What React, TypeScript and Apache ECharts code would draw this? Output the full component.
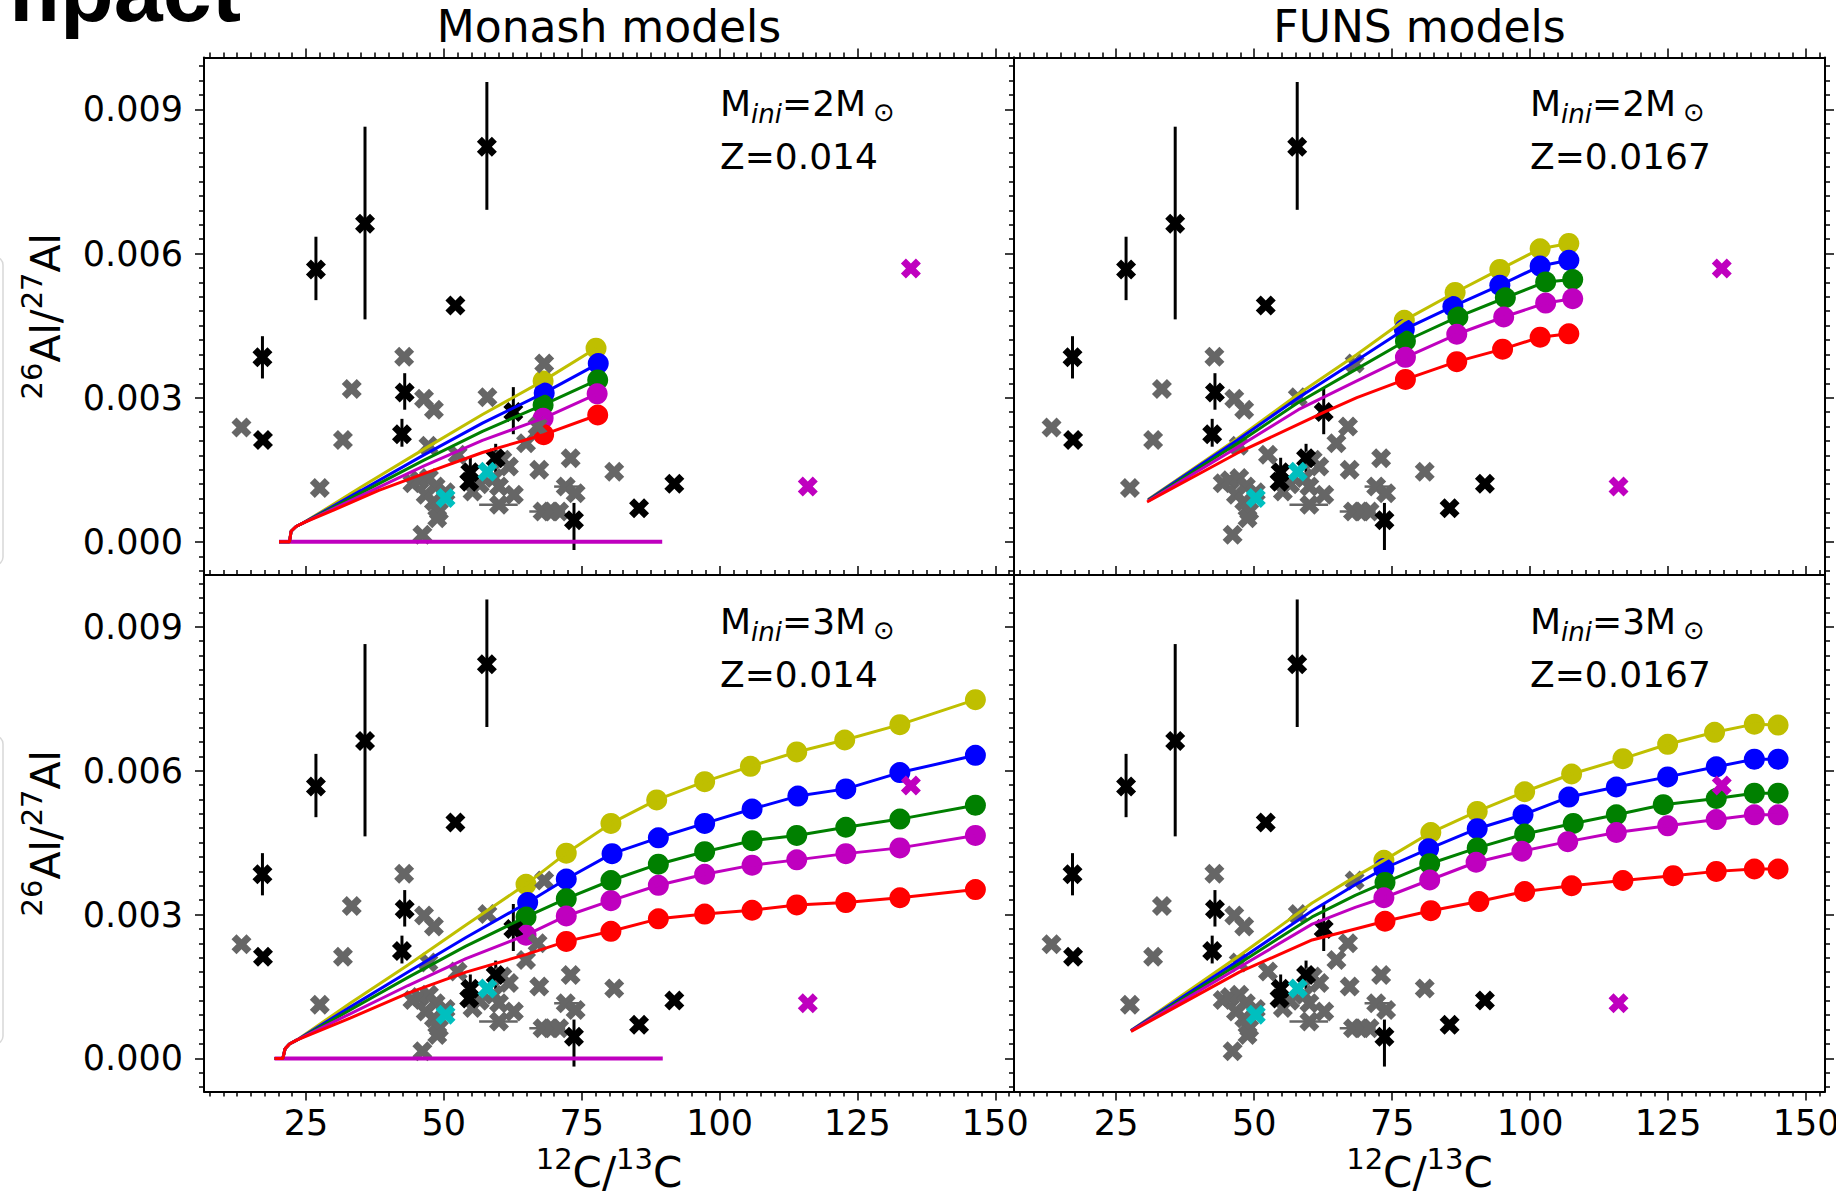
import React, { useEffect, useRef } from "react";
import * as echarts from "echarts";

type Pt = [number, number];

const W = 1836;
const H = 1198;

// ---------- axis ranges and ticks ----------
const X_MIN = 6.5;
const X_MAX = 153.4;
const Y_MIN = -0.00069;
const Y_MAX = 0.01008;
const X_TICKS = [25, 50, 75, 100, 125, 150];
const Y_TICKS = [0, 0.003, 0.006, 0.009];
const X_MINOR: number[] = [];
for (let k = 3; k <= 61; k++) if (k % 10 !== 0) X_MINOR.push(k * 2.5);
const Y_MINOR: number[] = [];
for (let k = -2; k <= 33; k++) if (k % 10 !== 0) Y_MINOR.push(Number((k * 0.0003).toFixed(5)));

// ---------- colours ----------
const C_Y = "#bfbf00";
const C_B = "#0000ff";
const C_G = "#008000";
const C_M = "#bf00bf";
const C_R = "#ff0000";
const C_GRAY = "#666666";
const C_CYAN = "#00bfbf";

// filled "X" marker
const X_MARK = "path://M15,0L20,5L15,10L20,15L15,20L10,15L5,20L0,15L5,10L0,5L5,0L10,5Z";
const X_SIZE = 20;
const DOT_SIZE = 21;

// ---------- grain measurements (12C/13C, 26Al/27Al) ----------
const BLACK_PTS: Pt[] = [
  [17.1, 0.00384], [17.2, 0.00212], [26.8, 0.00567], [35.7, 0.00662], [57.8, 0.00822],
  [52.1, 0.00492], [42.9, 0.00311], [42.4, 0.00224], [62.6, 0.0027], [54.8, 0.00145],
  [54.6, 0.00125], [59.4, 0.00174], [73.6, 0.00045], [85.4, 0.0007], [91.8, 0.00121],
];
// [minus, plus] uncertainty on 26Al/27Al
const BLACK_YERR: Pt[] = [
  [0.00044, 0.00044], [0, 0], [0.00064, 0.00068], [0.00199, 0.00202], [0.00131, 0.00135],
  [0, 0], [0.00036, 0.0004], [0.00026, 0.00032], [0.00046, 0.00052], [0.00028, 0.0003],
  [0, 0], [0.0003, 0.0003], [0.00062, 0.00036], [0, 0], [0, 0],
];
const GRAY_PTS: Pt[] = [
  [13.3, 0.00238], [27.5, 0.00112], [33.3, 0.00318], [31.7, 0.00212], [42.8, 0.00385],
  [46.4, 0.00298], [48.2, 0.00275], [47.2, 0.002], [57.9, 0.00301], [68.2, 0.00371],
  [52.5, 0.00181], [64.9, 0.00205], [67.0, 0.0024], [67.3, 0.0015], [73.0, 0.00174],
  [80.9, 0.00146], [44.3, 0.00122], [45.6, 0.00128], [47.3, 0.00133], [48.5, 0.00115],
  [46.7, 0.00098], [48.2, 0.00084], [49.1, 0.00063], [48.8, 0.00049], [46.1, 0.00015],
  [50.3, 0.00103], [55.2, 0.00105], [60.6, 0.00171], [61.8, 0.00157], [59.1, 0.00133],
  [60.0, 0.00115], [62.7, 0.00098], [56.5, 0.0012], [60.0, 0.00077], [72.1, 0.00115],
  [73.9, 0.00101], [67.9, 0.00063], [69.4, 0.00063], [70.9, 0.00063],
];
// horizontal 12C/13C uncertainty: [low, high, 26Al/27Al]
const GRAY_XERR: [number, number, number][] = [
  [56.4, 63.4, 0.00077],
  [70.0, 74.5, 0.00115],
  [65.5, 72.0, 0.00063],
];
const CYAN_PTS: Pt[] = [[50.3, 0.00091], [57.9, 0.00146]];
const MAGENTA_PTS: Pt[] = [[116.0, 0.00115], [134.7, 0.00569]];

// ---------- Monash 2 Msun, Z=0.014 ----------
const MON2_START: Pt[] = [[20.1, 0], [22.0, 0], [22.3, 0.00022], [23.2, 0.00032], [24.6, 0.0004]];
const MON2_Y_TRACK: Pt[] = [[35, 0.00114], [46.4, 0.00193], [57, 0.00265]];
const MON2_B_TRACK: Pt[] = [[35, 0.00107], [46.4, 0.00181], [57, 0.00247]];
const MON2_G_TRACK: Pt[] = [[35, 0.00102], [46.4, 0.0017], [57, 0.0023]];
const MON2_M_TRACK: Pt[] = [[35, 0.00096], [46.4, 0.00158], [57, 0.00211]];
const MON2_R_TRACK: Pt[] = [[30, 0.00066], [38.2, 0.00107], [46.4, 0.00142], [57, 0.00186]];
const MON2_Y_DOTS: Pt[] = [[68.0, 0.00335], [77.6, 0.00403]];
const MON2_B_DOTS: Pt[] = [[68.2, 0.0031], [78.0, 0.00371]];
const MON2_G_DOTS: Pt[] = [[68.0, 0.00285], [77.9, 0.00337]];
const MON2_M_DOTS: Pt[] = [[68.0, 0.00257], [77.8, 0.00308]];
const MON2_R_DOTS: Pt[] = [[68.1, 0.00223], [77.9, 0.00264]];
const MON2_FLAT: Pt[] = [[20.1, 0], [89.6, 0]];

// ---------- Monash 3 Msun, Z=0.014 ----------
const MON3_START: Pt[] = [[19.3, 0], [20.8, 0], [21.2, 0.0002], [22.0, 0.0003], [23.3, 0.00038]];
const MON3_Y_TRACK: Pt[] = [[33, 0.00115], [43.5, 0.00195], [54, 0.00278]];
const MON3_B_TRACK: Pt[] = [[33, 0.00107], [43.5, 0.0018], [54, 0.00252]];
const MON3_G_TRACK: Pt[] = [[33, 0.00101], [43.5, 0.00169], [54, 0.00234]];
const MON3_M_TRACK: Pt[] = [[33, 0.00093], [43.5, 0.00152], [54, 0.00208]];
const MON3_R_TRACK: Pt[] = [[33, 0.00084], [43.5, 0.00136], [54, 0.0018], [65.0, 0.00217]];
const MON3_Y_DOTS: Pt[] = [
  [64.9, 0.00363], [72.2, 0.00428], [80.3, 0.0049], [88.6, 0.00539], [97.3, 0.00577],
  [105.6, 0.00609], [114.0, 0.00639], [122.7, 0.00664], [132.7, 0.00696], [146.4, 0.00748],
];
const MON3_B_DOTS: Pt[] = [
  [65.2, 0.00325], [72.2, 0.00374], [80.5, 0.00427], [88.9, 0.0046], [97.3, 0.0049],
  [105.9, 0.0052], [114.2, 0.00547], [122.9, 0.00562], [132.7, 0.00596], [146.4, 0.00632],
];
const MON3_G_DOTS: Pt[] = [
  [64.9, 0.00295], [72.2, 0.00333], [80.3, 0.00371], [88.9, 0.00405], [97.3, 0.00431],
  [105.9, 0.00454], [114.0, 0.00465], [122.9, 0.00482], [132.7, 0.00499], [146.4, 0.00528],
];
const MON3_M_DOTS: Pt[] = [
  [64.9, 0.00257], [72.2, 0.00297], [80.3, 0.00329], [88.9, 0.00361], [97.3, 0.00384],
  [105.9, 0.00403], [114.0, 0.00414], [122.9, 0.00427], [132.7, 0.00439], [146.4, 0.00465],
];
const MON3_R_DOTS: Pt[] = [
  [72.2, 0.00244], [80.3, 0.00265], [88.9, 0.00291], [97.3, 0.00301], [105.9, 0.00309],
  [114.0, 0.0032], [122.9, 0.00325], [132.7, 0.00335], [146.4, 0.00352],
];
const MON3_FLAT: Pt[] = [[19.3, 0], [89.7, 0]];

// ---------- FUNS 2 Msun, Z=0.0167 ----------
const FUN2_Y_TRACK: Pt[] = [[30.8, 0.00088], [47.0, 0.00215], [58.3, 0.0031], [68.6, 0.0039]];
const FUN2_B_TRACK: Pt[] = [[30.8, 0.00087], [47.0, 0.00212], [58.0, 0.003], [68.6, 0.00378]];
const FUN2_G_TRACK: Pt[] = [[30.8, 0.00086], [47.0, 0.00205], [58.0, 0.0029], [68.6, 0.0036]];
const FUN2_M_TRACK: Pt[] = [[30.8, 0.00085], [47.0, 0.00197], [58.0, 0.00275], [68.6, 0.00335]];
const FUN2_R_TRACK: Pt[] = [[30.6, 0.00083], [47.0, 0.00185], [62.7, 0.0027], [68.6, 0.003]];
const FUN2_Y_DOTS: Pt[] = [[77.2, 0.00461], [86.4, 0.00519], [94.5, 0.00567], [101.8, 0.0061], [107.0, 0.00621]];
const FUN2_B_DOTS: Pt[] = [[77.2, 0.00442], [86.0, 0.0049], [94.5, 0.00534], [101.8, 0.00574], [107.0, 0.00586]];
const FUN2_G_DOTS: Pt[] = [[77.4, 0.00418], [86.9, 0.00468], [95.5, 0.00508], [102.8, 0.00541], [107.7, 0.00546]];
const FUN2_M_DOTS: Pt[] = [[77.4, 0.00384], [86.7, 0.00432], [95.2, 0.00468], [102.8, 0.00497], [107.7, 0.00506]];
const FUN2_R_DOTS: Pt[] = [[77.4, 0.00338], [86.7, 0.00375], [95.0, 0.00401], [101.8, 0.00426], [107.0, 0.00433]];

// ---------- FUNS 3 Msun, Z=0.0167 ----------
const FUN3_Y_TRACK: Pt[] = [[27.7, 0.00058], [47.3, 0.00214], [60.5, 0.00324], [68.3, 0.00379]];
const FUN3_B_TRACK: Pt[] = [[27.7, 0.00058], [47.3, 0.00205], [60.5, 0.00308], [68.3, 0.00362]];
const FUN3_G_TRACK: Pt[] = [[27.7, 0.00057], [47.3, 0.00198], [60.5, 0.00295], [68.3, 0.0034]];
const FUN3_M_TRACK: Pt[] = [[27.7, 0.00057], [47.3, 0.0019], [60.5, 0.0028], [68.3, 0.00315]];
const FUN3_R_TRACK: Pt[] = [[27.7, 0.00056], [47.3, 0.0018], [60.5, 0.00247], [68.3, 0.0027]];
const FUN3_Y_DOTS: Pt[] = [
  [73.5, 0.00413], [82.0, 0.00471], [90.4, 0.00515], [99.0, 0.00556], [107.5, 0.00593],
  [116.8, 0.00625], [124.9, 0.00655], [133.4, 0.0068], [140.6, 0.00697], [144.9, 0.00695],
];
const FUN3_B_DOTS: Pt[] = [
  [73.5, 0.00396], [81.6, 0.00437], [90.4, 0.00479], [98.7, 0.00508], [107.0, 0.00545],
  [115.6, 0.00566], [124.9, 0.00587], [133.7, 0.00608], [140.6, 0.00624], [144.9, 0.00624],
];
const FUN3_G_DOTS: Pt[] = [
  [73.7, 0.00367], [81.8, 0.00406], [90.4, 0.00439], [99.0, 0.00468], [107.8, 0.0049],
  [115.6, 0.00508], [124.1, 0.00529], [133.7, 0.00542], [140.6, 0.00553], [144.9, 0.00553],
];
const FUN3_M_DOTS: Pt[] = [
  [73.5, 0.00335], [81.8, 0.00372], [90.2, 0.00409], [98.5, 0.00432], [106.8, 0.00452],
  [115.6, 0.00471], [124.9, 0.00485], [133.7, 0.00498], [140.6, 0.00508], [144.9, 0.00508],
];
const FUN3_R_DOTS: Pt[] = [
  [73.7, 0.00286], [82.0, 0.00308], [90.7, 0.00327], [99.0, 0.00348], [107.5, 0.0036],
  [116.8, 0.00371], [125.9, 0.00381], [133.7, 0.0039], [140.6, 0.00395], [144.9, 0.00395],
];

type Curve = { color: string; line: Pt[]; dots: Pt[] };
type Panel = {
  left: number; top: number; width: number; height: number;
  bottomRow: boolean; leftCol: boolean;
  mass: string; z: string;
  curves: Curve[]; flat?: Pt[];
};

const mk = (color: string, start: Pt[], track: Pt[], dots: Pt[]): Curve => ({
  color, line: [...start, ...track, ...dots], dots,
});

const PANELS: Panel[] = [
  {
    left: 204, top: 57.5, width: 810, height: 517.5, bottomRow: false, leftCol: true,
    mass: "2", z: "0.014", flat: MON2_FLAT,
    curves: [
      mk(C_Y, MON2_START, MON2_Y_TRACK, MON2_Y_DOTS),
      mk(C_B, MON2_START, MON2_B_TRACK, MON2_B_DOTS),
      mk(C_G, MON2_START, MON2_G_TRACK, MON2_G_DOTS),
      mk(C_M, MON2_START, MON2_M_TRACK, MON2_M_DOTS),
      mk(C_R, MON2_START, MON2_R_TRACK, MON2_R_DOTS),
    ],
  },
  {
    left: 1014, top: 57.5, width: 811, height: 517.5, bottomRow: false, leftCol: false,
    mass: "2", z: "0.0167",
    curves: [
      mk(C_Y, [], FUN2_Y_TRACK, FUN2_Y_DOTS),
      mk(C_B, [], FUN2_B_TRACK, FUN2_B_DOTS),
      mk(C_G, [], FUN2_G_TRACK, FUN2_G_DOTS),
      mk(C_M, [], FUN2_M_TRACK, FUN2_M_DOTS),
      mk(C_R, [], FUN2_R_TRACK, FUN2_R_DOTS),
    ],
  },
  {
    left: 204, top: 575, width: 810, height: 516.5, bottomRow: true, leftCol: true,
    mass: "3", z: "0.014", flat: MON3_FLAT,
    curves: [
      mk(C_Y, MON3_START, MON3_Y_TRACK, MON3_Y_DOTS),
      mk(C_B, MON3_START, MON3_B_TRACK, MON3_B_DOTS),
      mk(C_G, MON3_START, MON3_G_TRACK, MON3_G_DOTS),
      mk(C_M, MON3_START, MON3_M_TRACK, MON3_M_DOTS),
      mk(C_R, MON3_START, MON3_R_TRACK, MON3_R_DOTS),
    ],
  },
  {
    left: 1014, top: 575, width: 811, height: 516.5, bottomRow: true, leftCol: false,
    mass: "3", z: "0.0167",
    curves: [
      mk(C_Y, [], FUN3_Y_TRACK, FUN3_Y_DOTS),
      mk(C_B, [], FUN3_B_TRACK, FUN3_B_DOTS),
      mk(C_G, [], FUN3_G_TRACK, FUN3_G_DOTS),
      mk(C_M, [], FUN3_M_TRACK, FUN3_M_DOTS),
      mk(C_R, [], FUN3_R_TRACK, FUN3_R_DOTS),
    ],
  },
];

const FAMILY = '"DejaVu Sans"';
const AXIS_COLOR = "#000";

type Run = { t: string; size: number; italic?: boolean; bold?: boolean; dy?: number; gap?: number; family?: string };
const fontOf = (r: Run) =>
  `${r.italic ? "italic " : ""}${r.bold ? "bold " : ""}${r.size}px ${r.family || FAMILY}`;

// places a sequence of text runs on a shared baseline (with sub/superscript offsets)
function layoutRuns(
  ctx: CanvasRenderingContext2D,
  runs: Run[],
  x: number,
  baseline: number,
  anchor: "start" | "middle" | "end",
) {
  const widths = runs.map((r) => {
    ctx.font = fontOf(r);
    return ctx.measureText(r.t).width;
  });
  const total = widths.reduce((a, w, i) => a + w + (runs[i].gap || 0), 0);
  let cx = anchor === "middle" ? x - total / 2 : anchor === "end" ? x - total : x;
  const out: any[] = [];
  runs.forEach((r, i) => {
    cx += r.gap || 0;
    ctx.font = fontOf(r);
    const m: any = ctx.measureText(r.t);
    const asc = m.fontBoundingBoxAscent ?? r.size * 0.93;
    const desc = m.fontBoundingBoxDescent ?? r.size * 0.24;
    const cy = baseline + (r.dy || 0) - (asc - desc) / 2;
    out.push({
      type: "text",
      x: cx,
      y: cy,
      silent: true,
      style: {
        text: r.t,
        font: fontOf(r),
        fill: "#000",
        textAlign: "left",
        textVerticalAlign: "middle",
        align: "left",
        verticalAlign: "middle",
      },
    });
    cx += widths[i];
  });
  return out;
}

function xAxesFor(i: number, p: Panel) {
  const base = {
    type: "value", gridIndex: i, min: X_MIN, max: X_MAX,
    splitLine: { show: false }, minorTick: { show: false },
  };
  const line = { show: true, onZero: false, lineStyle: { color: AXIS_COLOR, width: 2 } };
  const tickStyle = { color: AXIS_COLOR, width: 1.5 };
  return [
    {
      ...base, position: "bottom", axisLine: line,
      axisTick: { show: p.bottomRow, inside: false, length: 9, customValues: X_TICKS, lineStyle: tickStyle },
      axisLabel: {
        show: p.bottomRow, customValues: X_TICKS, margin: 14, color: "#000",
        fontFamily: "DejaVu Sans", fontSize: 35, formatter: (v: number) => String(v),
      },
    },
    {
      ...base, position: "bottom", axisLine: { show: false, onZero: false },
      axisTick: { show: p.bottomRow, inside: false, length: 5, customValues: X_MINOR, lineStyle: tickStyle },
      axisLabel: { show: false },
    },
    {
      ...base, position: "top", axisLine: line,
      axisTick: { show: true, inside: false, length: 9, customValues: X_TICKS, lineStyle: tickStyle },
      axisLabel: { show: false },
    },
    {
      ...base, position: "top", axisLine: { show: false, onZero: false },
      axisTick: { show: true, inside: false, length: 5, customValues: X_MINOR, lineStyle: tickStyle },
      axisLabel: { show: false },
    },
  ];
}

function yAxesFor(i: number, p: Panel) {
  const base = {
    type: "value", gridIndex: i, min: Y_MIN, max: Y_MAX,
    splitLine: { show: false }, minorTick: { show: false },
  };
  const line = { show: true, onZero: false, lineStyle: { color: AXIS_COLOR, width: 2 } };
  const tickStyle = { color: AXIS_COLOR, width: 1.5 };
  return [
    {
      ...base, position: "left", axisLine: line,
      axisTick: { show: true, inside: false, length: 9, customValues: Y_TICKS, lineStyle: tickStyle },
      axisLabel: {
        show: p.leftCol, customValues: Y_TICKS, margin: 21, color: "#000",
        fontFamily: "DejaVu Sans", fontSize: 35, formatter: (v: number) => v.toFixed(3),
      },
    },
    {
      ...base, position: "left", axisLine: { show: false, onZero: false },
      axisTick: { show: true, inside: false, length: 5, customValues: Y_MINOR, lineStyle: tickStyle },
      axisLabel: { show: false },
    },
    {
      ...base, position: "right", axisLine: line,
      axisTick: { show: !p.leftCol, inside: false, length: 9, customValues: Y_TICKS, lineStyle: tickStyle },
      axisLabel: { show: false },
    },
    {
      ...base, position: "right", axisLine: { show: false, onZero: false },
      axisTick: { show: !p.leftCol, inside: false, length: 5, customValues: Y_MINOR, lineStyle: tickStyle },
      axisLabel: { show: false },
    },
  ];
}

function seriesFor(i: number, p: Panel) {
  const ax = { xAxisIndex: i * 4, yAxisIndex: i * 4 };
  const out: any[] = [];
  if (p.flat) {
    out.push({
      type: "line", ...ax, data: p.flat, symbol: "none", silent: true,
      lineStyle: { color: C_M, width: 4 },
    });
  }
  p.curves.forEach((c) => {
    out.push({
      type: "line", ...ax, data: c.line, symbol: "none", silent: true,
      lineStyle: { color: c.color, width: 3 },
    });
  });
  p.curves.forEach((c) => {
    out.push({
      type: "scatter", ...ax, data: c.dots, symbol: "circle", symbolSize: DOT_SIZE, silent: true,
      itemStyle: { color: c.color, opacity: 1 },
    });
  });
  // horizontal uncertainty of grey grains
  out.push({
    type: "custom", ...ax, silent: true,
    data: GRAY_XERR,
    encode: { x: [0, 1], y: 2 },
    renderItem: (_: any, api: any) => {
      const a = api.coord([api.value(0), api.value(2)]);
      const b = api.coord([api.value(1), api.value(2)]);
      return { type: "line", shape: { x1: a[0], y1: a[1], x2: b[0], y2: b[1] }, style: { stroke: C_GRAY, lineWidth: 2.5 } };
    },
  });
  out.push({
    type: "scatter", ...ax, data: GRAY_PTS, symbol: X_MARK, symbolSize: X_SIZE, silent: true,
    itemStyle: { color: C_GRAY, opacity: 1 },
  });
  const blackBars = BLACK_PTS
    .map((pt, k) => [pt[0], pt[1] - BLACK_YERR[k][0], pt[1] + BLACK_YERR[k][1]])
    .filter((b) => b[2] - b[1] > 0);
  out.push({
    type: "custom", ...ax, silent: true,
    data: blackBars,
    encode: { x: 0, y: [1, 2] },
    renderItem: (_: any, api: any) => {
      const a = api.coord([api.value(0), api.value(1)]);
      const b = api.coord([api.value(0), api.value(2)]);
      return { type: "line", shape: { x1: a[0], y1: a[1], x2: b[0], y2: b[1] }, style: { stroke: "#000", lineWidth: 3 } };
    },
  });
  out.push({
    type: "scatter", ...ax, data: BLACK_PTS, symbol: X_MARK, symbolSize: X_SIZE, silent: true,
    itemStyle: { color: "#000", opacity: 1 },
  });
  out.push({
    type: "scatter", ...ax, data: CYAN_PTS, symbol: X_MARK, symbolSize: X_SIZE, silent: true,
    itemStyle: { color: C_CYAN, opacity: 1 },
  });
  out.push({
    type: "scatter", ...ax, data: MAGENTA_PTS, symbol: X_MARK, symbolSize: X_SIZE, silent: true,
    itemStyle: { color: C_M, opacity: 1 },
  });
  return out;
}

function buildGraphics(): any[] {
  const cv = document.createElement("canvas");
  const ctx = cv.getContext("2d") as CanvasRenderingContext2D;
  const els: any[] = [];

  // heading cut at the page's left edge
  els.push(
    ...layoutRuns(ctx, [{ t: "Impact", size: 88, bold: true, family: '"Liberation Sans"' }], 241, 21, "end"),
  );

  // faint frames at the far left
  [257, 736].forEach((y) => {
    els.push({
      type: "rect", silent: true,
      shape: { x: -30, y, width: 33, height: 308, r: 8 },
      style: { fill: "none", stroke: "#d8d8d8", lineWidth: 1.5 },
    });
  });

  // column titles
  els.push(...layoutRuns(ctx, [{ t: "Monash models", size: 44 }], 609, 42, "middle"));
  els.push(...layoutRuns(ctx, [{ t: "FUNS models", size: 44 }], 1419.5, 42, "middle"));

  PANELS.forEach((p) => {
    const x0 = p.left + 516;
    const b1 = p.top + 58.5;
    const b2 = p.top + 111.5;
    els.push(
      ...layoutRuns(
        ctx,
        [
          { t: "M", size: 36 },
          { t: "ini", size: 26, italic: true, dy: 7 },
          { t: "=" + p.mass + "M", size: 36 },
          { t: "⊙", size: 26, dy: 5, gap: 7 },
        ],
        x0, b1, "start",
      ),
    );
    els.push(...layoutRuns(ctx, [{ t: "Z=" + p.z, size: 36 }], x0, b2, "start"));

    if (p.bottomRow) {
      els.push(
        ...layoutRuns(
          ctx,
          [
            { t: "12", size: 29, dy: -18 },
            { t: "C/", size: 42 },
            { t: "13", size: 29, dy: -18 },
            { t: "C", size: 42 },
          ],
          p.left + p.width / 2, 1187, "middle",
        ),
      );
    }
    if (p.leftCol) {
      els.push({
        type: "group",
        x: 60,
        y: p.top + p.height / 2,
        rotation: Math.PI / 2,
        silent: true,
        children: layoutRuns(
          ctx,
          [
            { t: "26", size: 29, dy: -18 },
            { t: "Al/", size: 41 },
            { t: "27", size: 29, dy: -18 },
            { t: "Al", size: 41 },
          ],
          0, 0, "middle",
        ),
      });
    }
  });
  return els;
}

function buildOption() {
  return {
    animation: false,
    backgroundColor: "#ffffff",
    grid: PANELS.map((p) => ({
      left: p.left, top: p.top, width: p.width, height: p.height,
      containLabel: false, outerBoundsMode: "none",
    })),
    xAxis: PANELS.flatMap((p, i) => xAxesFor(i, p)),
    yAxis: PANELS.flatMap((p, i) => yAxesFor(i, p)),
    series: PANELS.flatMap((p, i) => seriesFor(i, p)),
    graphic: { elements: buildGraphics() },
  };
}

export default function App() {
  const ref = useRef<HTMLDivElement>(null);
  useEffect(() => {
    document.body.style.margin = "0";
    const el = ref.current;
    if (!el) return;
    const chart = echarts.init(el, null, { renderer: "svg", width: W, height: H });
    chart.setOption(buildOption() as any);
    return () => chart.dispose();
  }, []);
  return <div ref={ref} style={{ width: W, height: H, background: "#fff", overflow: "hidden" }} />;
}
